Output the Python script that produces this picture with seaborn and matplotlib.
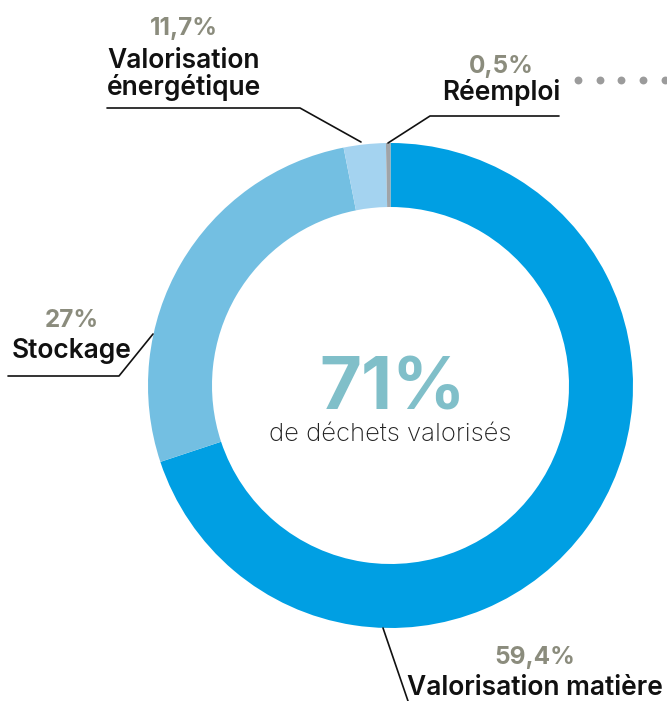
import numpy as np
import matplotlib.pyplot as plt
import seaborn as sns

# parts du donut et libellés
categories = ['Valorisation matière', 'Stockage', 'Valorisation\nénergétique', 'Réemploi']
parts = [69.9, 27.0, 2.8, 0.3]
labels_pct = ['59,4%', '27%', '11,7%', '0,5%']
centre_val = '71%'
centre_txt = 'de déchets valorisés'

couleurs = ['#009fe3', '#73bfe2', '#a4d3f0', '#a0a4a8']

sns.set_style('white')
plt.rcParams['font.family'] = ['Inter', 'DejaVu Sans']

W, H = 667, 701
fig = plt.figure(figsize=(W / 100, H / 100), dpi=100)
ax = fig.add_axes([0, 0, 1, 1])

def Y(y):
    # coordonnées en pixels depuis le haut
    return H - y

cx, cy, R = 390.5, 385.5, 242.5
ax.pie(parts, colors=couleurs, startangle=90, counterclock=False,
       center=(cx, Y(cy)), radius=R,
       wedgeprops=dict(width=64, linewidth=0))
ax.set_xlim(0, W)
ax.set_ylim(0, H)
ax.set_aspect('equal')
ax.axis('off')

gris = '#8b8c7d'
noir = '#111111'
fp = 17.5   # pourcentages
fl = 19     # libellés

def etiquette(x, y_pct, y_lab, pct, lab):
    ax.text(x, Y(y_pct), pct, ha='center', va='baseline', fontsize=fp,
            fontweight='bold', color=gris)
    for i, ligne in enumerate(lab.split('\n')):
        ax.text(x, Y(y_lab + 27 * i), ligne, ha='center', va='baseline',
                fontsize=fl, fontweight='semibold', color=noir)

# centre
ax.text(cx + 2, Y(410), centre_val, ha='center', va='baseline', fontsize=52,
        fontweight='bold', color='#80bfc9')
ax.text(cx, Y(441), centre_txt, ha='center', va='baseline', fontsize=18.5,
        fontweight='light', color='#222222')

# Valorisation énergétique
etiquette(184, 35, 68, labels_pct[2], categories[2])
ax.plot([107, 300, 361], [Y(108), Y(108), Y(142)], color=noir, lw=1.2)

# Réemploi
etiquette(501, 73, 100, labels_pct[3], categories[3])
ax.plot([559, 430, 388], [Y(116), Y(116), Y(143)], color=noir, lw=1.2)
ax.scatter([578, 599.7, 621.3, 643, 664.7], [Y(80)] * 5, s=32, color='#9b9b9b', lw=0)

# Stockage
etiquette(72, 327, 358, labels_pct[1], categories[1])
ax.plot([8, 119, 153], [Y(376), Y(376), Y(334)], color=noir, lw=1.2)

# Valorisation matière
etiquette(535, 664, 695, labels_pct[0], categories[0])
ax.plot([383, 408], [Y(628), Y(701)], color=noir, lw=1.2)

fig.savefig('out.png', dpi=100)
